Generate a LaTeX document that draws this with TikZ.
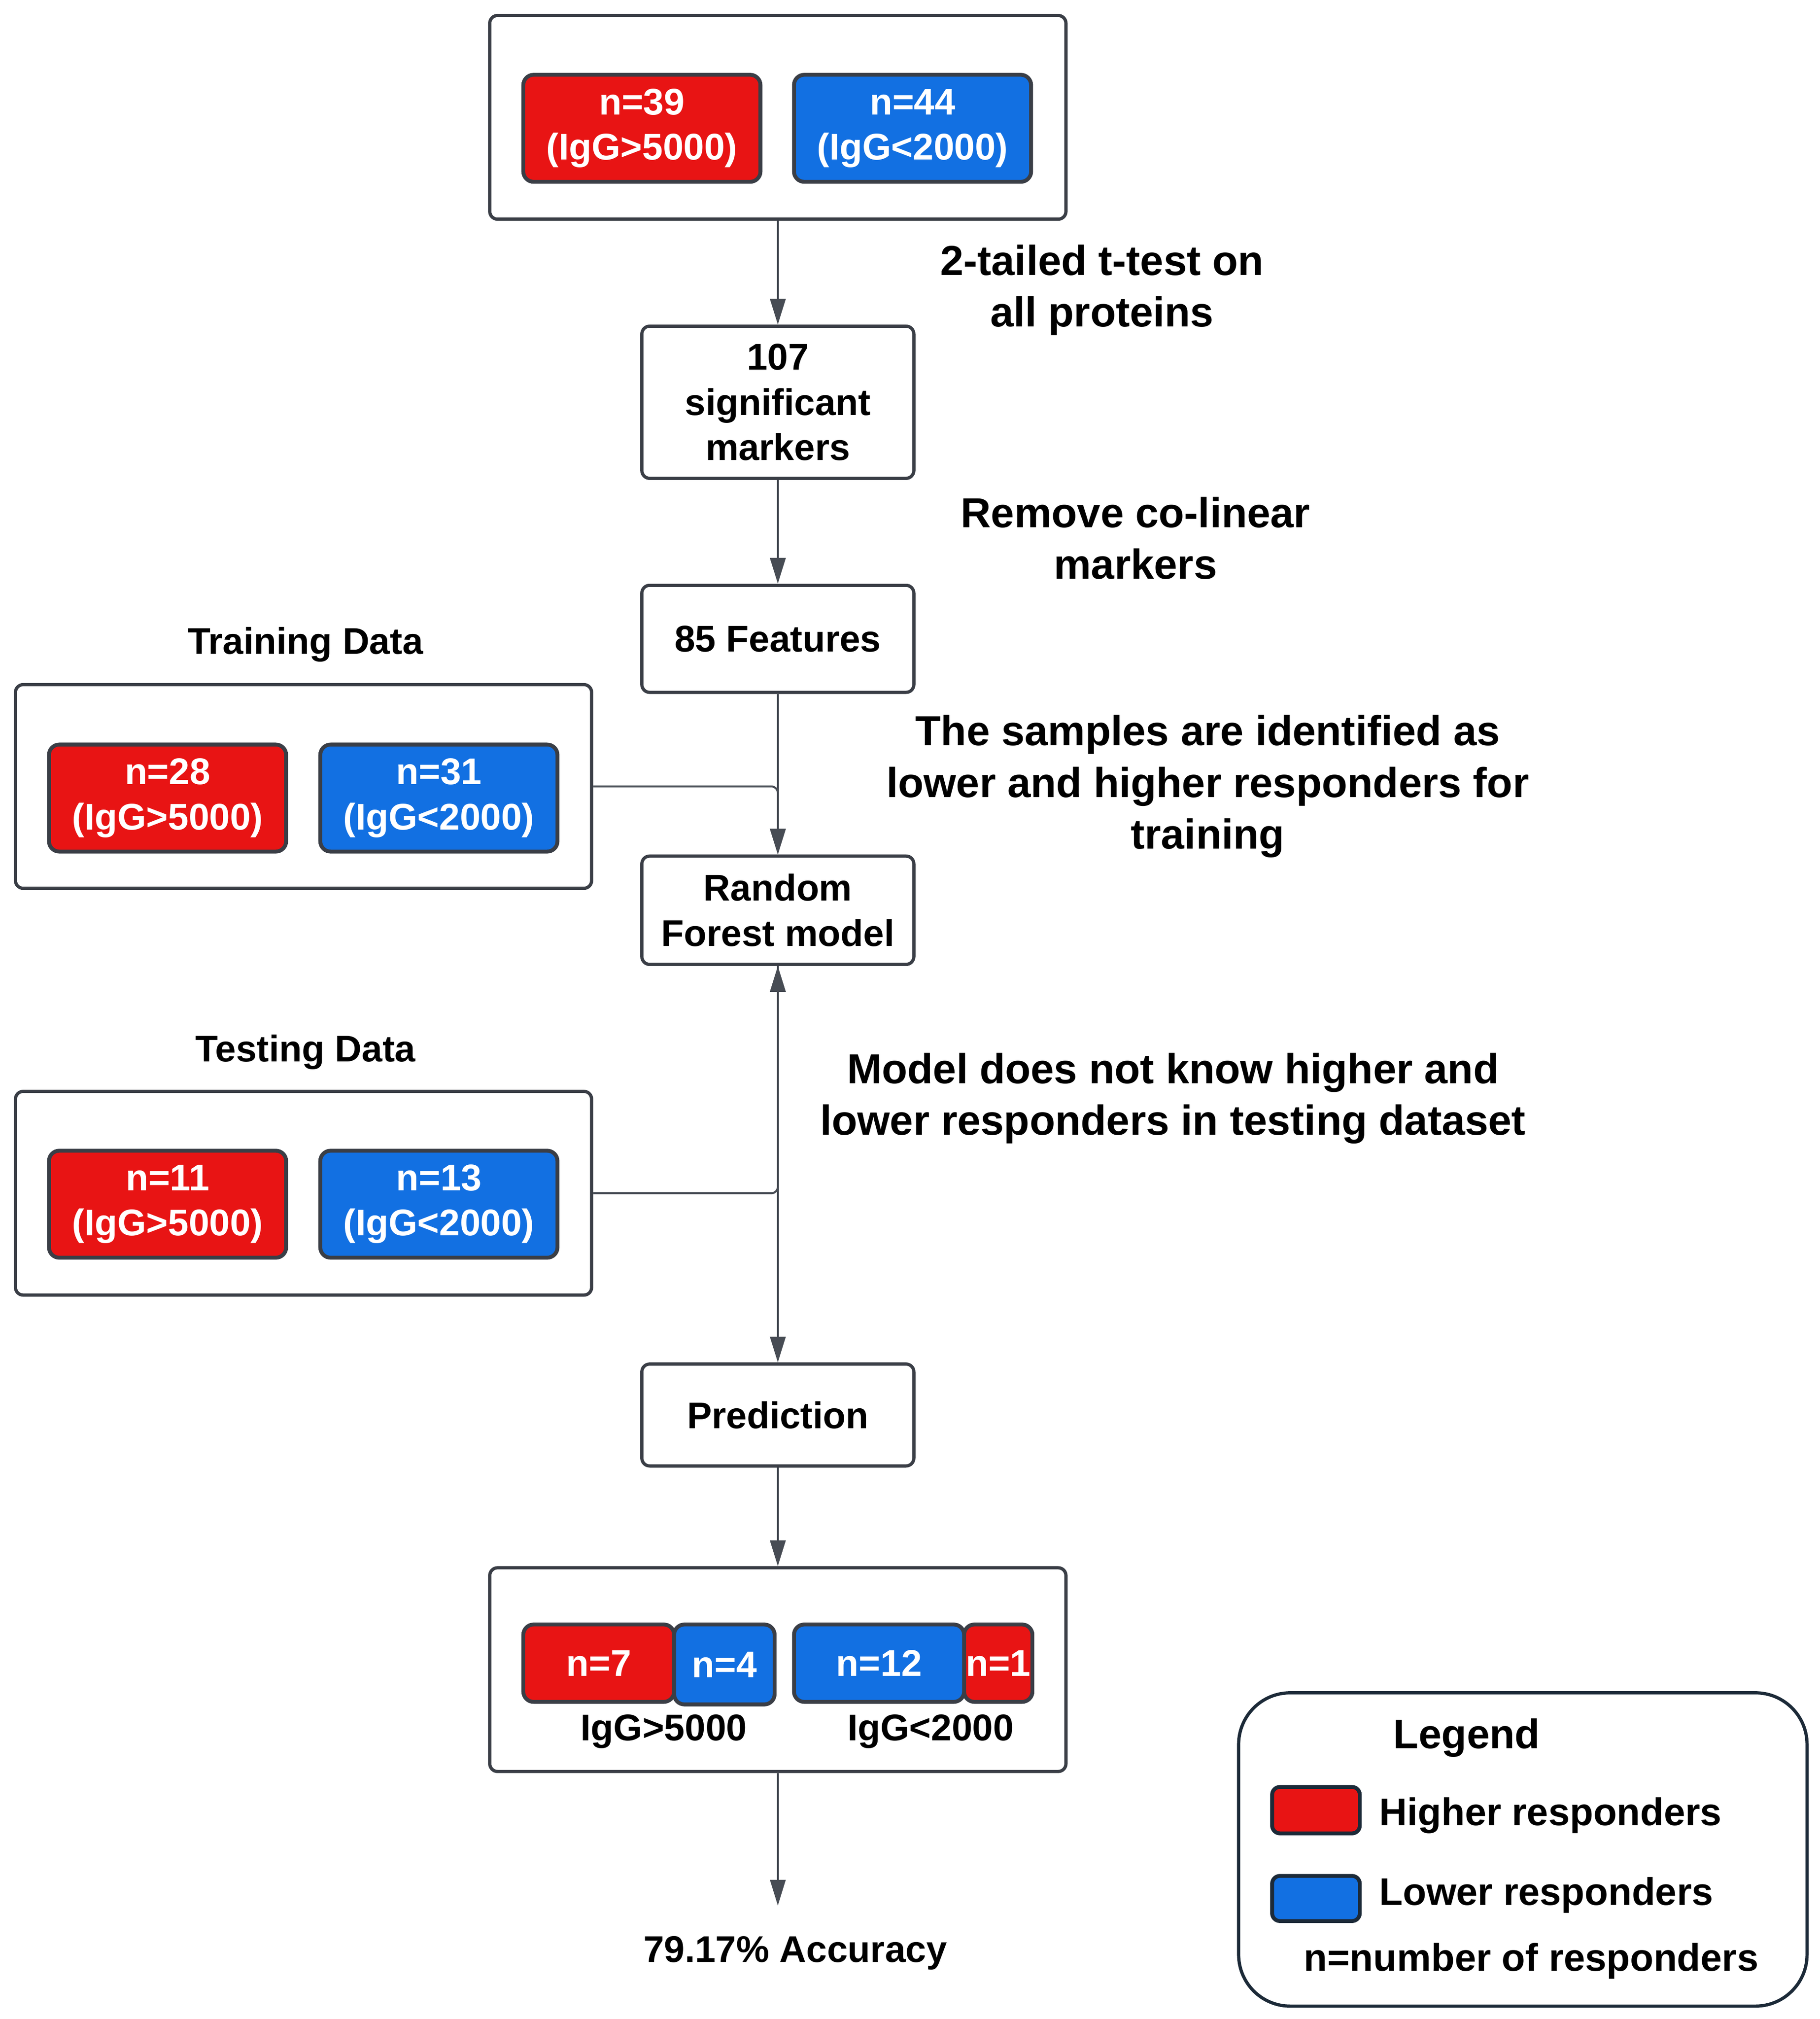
\documentclass[tikz,border=0pt]{standalone}
\usepackage{fontspec}
\setmainfont{Liberation Sans}
\usetikzlibrary{arrows.meta}

\definecolor{hired}{HTML}{E81414}
\definecolor{loblue}{HTML}{1270E2}
\definecolor{edge}{HTML}{3A3E46}
\definecolor{wire}{HTML}{474C54}
\definecolor{legedge}{HTML}{1C2A38}

\begin{document}
\begin{tikzpicture}[x=0.2mm,y=-0.2mm,
    frame/.style={draw=edge,line width=0.5mm,rounded corners=1.2mm,minimum width=89.4mm,minimum height=31.6mm,inner sep=0},
    stage/.style={draw=edge,line width=0.5mm,rounded corners=1.2mm,minimum width=42.2mm,align=center,inner sep=0},
    grp/.style={draw=edge,line width=0.6mm,rounded corners=1.6mm,text=white,align=center,inner sep=0,minimum width=36.8mm,minimum height=16.6mm},
    hi/.style={grp,fill=hired},
    lo/.style={grp,fill=loblue},
    note/.style={align=center,font=\fontsize{18.5}{22.8}\selectfont\bfseries},
    legtext/.style={font=\fontsize{17}{20}\selectfont\bfseries},
    arr/.style={draw=wire,line width=0.3mm,-{Triangle[length=4mm,width=2.4mm]}},
    every node/.style={font=\fontsize{16.4}{19.9}\selectfont\bfseries}]

\fill [white] (0,0) rectangle (1412,1566);
\useasboundingbox (0,0) rectangle (1412,1566);

\node [frame] (box_top)    at (603.5,  91.0) {};
\node [hi]    (top_39)     at (498.0,  99.5) {n=39\\(IgG>5000)};
\node [lo]    (top_44)     at (708.0,  99.5) {n=44\\(IgG<2000)};

\node [stage,minimum height=23.6mm] (stage_sig)  at (603.5, 312.0) {107\\significant\\markers};
\node [stage,minimum height=16.6mm] (stage_feat) at (603.5, 495.5) {85 Features};
\node [stage,minimum height=16.8mm] (stage_rf)   at (603.5, 706.0) {Random\\Forest model};
\node [stage,minimum height=15.8mm] (stage_pred) at (603.5,1097.5) {Prediction};

\node [note] (note_ttest)  at (855.0, 225.0) {2-tailed t-test on\\all proteins};
\node [note] (note_colin)  at (881.0, 417.5) {Remove co-linear\\markers};
\node [note] (note_train)  at (937.0, 610.0) {The samples are identified as\\lower and higher responders for\\training};
\node [note] (note_test)   at (910.0, 852.0) {Model does not know higher and\\lower responders in testing dataset};

\node          (lab_train) at (237.0, 500.0) {Training Data};
\node [frame]  (box_train) at (235.5, 610.0) {};
\node [hi]     (train_28)  at (130.0, 619.0) {n=28\\(IgG>5000)};
\node [lo]     (train_31)  at (340.5, 619.0) {n=31\\(IgG<2000)};

\node          (lab_test)  at (237.0, 816.0) {Testing Data};
\node [frame]  (box_test)  at (235.5, 925.5) {};
\node [hi]     (test_11)   at (130.0, 934.0) {n=11\\(IgG>5000)};
\node [lo]     (test_13)   at (340.5, 934.0) {n=13\\(IgG<2000)};

\node [frame]  (box_res)   at (603.5,1295.0) {};
\node [hi,minimum width=23.4mm,minimum height=12.0mm] (res_7)  at (464.5,1290.0) {n=7};
\node [lo,minimum width=15.6mm,minimum height=12.4mm] (res_4)  at (562.0,1291.0) {n=4};
\node [lo,minimum width=26.4mm,minimum height=12.0mm] (res_12) at (682.0,1290.0) {n=12};
\node [hi,minimum width=10.6mm,minimum height=12.0mm] (res_1)  at (774.5,1290.0) {n=1};
\node          (res_hi)    at (515.0,1343.0) {IgG>5000};
\node          (res_lo)    at (722.0,1343.0) {IgG<2000};

\node          (acc)       at (617.0,1515.0) {79.17\% Accuracy};
\coordinate    (acc_end)   at (603.5,1478.0);

\node [draw=legedge,line width=0.5mm,rounded corners=8mm,minimum width=88.2mm,minimum height=48.6mm] (legend) at (1181.5,1434.5) {};
\node [font=\fontsize{18.2}{22}\selectfont\bfseries] (leg_title) at (1138.0,1348.0) {Legend};
\node [draw=legedge,line width=0.6mm,fill=hired,rounded corners=1.2mm,minimum width=13.6mm,minimum height=7.2mm,inner sep=0] (leg_hi) at (1021.0,1404.0) {};
\node [draw=legedge,line width=0.6mm,fill=loblue,rounded corners=1.2mm,minimum width=13.6mm,minimum height=7.0mm,inner sep=0] (leg_lo) at (1021.0,1472.5) {};
\node [legtext,anchor=west] (leg_hi_txt) at (1064.0,1408.0) {Higher responders};
\node [legtext,anchor=west] (leg_lo_txt) at (1064.0,1470.0) {Lower responders};
\node [legtext] (leg_n) at (1188.0,1521.0) {n=number of responders};

\draw [arr] (box_top.south)    -- (stage_sig.north);
\draw [arr] (stage_sig.south)  -- (stage_feat.north);
\draw [arr] (stage_feat.south) -- (stage_rf.north);
\draw [arr,rounded corners=1mm] (box_train.east) -| (stage_rf.north);
\draw [arr,rounded corners=1mm] (box_test.east)  -| (stage_rf.south);
\draw [arr] (stage_rf.south)   -- (stage_pred.north);
\draw [arr] (stage_pred.south) -- (box_res.north);
\draw [arr,line width=0.25mm] (box_res.south) -- (acc_end);

\end{tikzpicture}
\end{document}
